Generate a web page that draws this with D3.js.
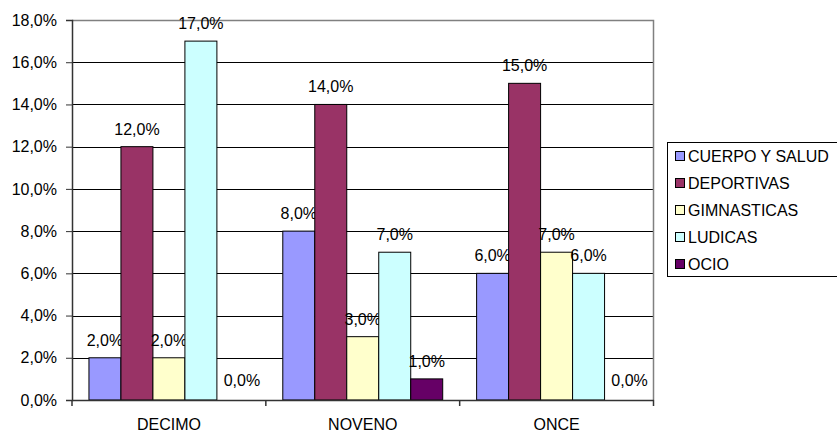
<!DOCTYPE html>
<html><head><meta charset="utf-8">
<script src="https://cdn.jsdelivr.net/npm/d3@7"></script>
<style>
html,body{margin:0;padding:0;background:#fff;}
text{font-family:"Liberation Sans",Arial,sans-serif;}
</style></head>
<body>
<svg id="chart" width="837" height="433"></svg>
<script>
const categories = ["DECIMO", "NOVENO", "ONCE"];
const seriesNames = ["CUERPO Y SALUD", "DEPORTIVAS", "GIMNASTICAS", "LUDICAS", "OCIO"];
const cuerpoYSalud = [2.0, 8.0, 6.0];
const deportivas = [12.0, 14.0, 15.0];
const gimnasticas = [2.0, 3.0, 7.0];
const ludicas = [17.0, 7.0, 6.0];
const ocio = [0.0, 1.0, 0.0];
const yTicks = [0, 2, 4, 6, 8, 10, 12, 14, 16, 18];
const colors = ["#9999FF", "#993366", "#FFFFCC", "#CCFFFF", "#660066"];

const seriesValues = [cuerpoYSalud, deportivas, gimnasticas, ludicas, ocio];
const fmt = v => v.toFixed(1).replace(".", ",") + "%";
const FS = 16;
const FF = "Liberation Sans, Arial, sans-serif";

const svg = d3.select("#chart");
const pLeft = 72, pRight = 653.5, pTop = 20, pBottom = 400;

const x0 = d3.scaleBand().domain(categories).range([pLeft, pRight]).paddingInner(0).paddingOuter(0);
const x1 = d3.scaleBand().domain(seriesNames).range([0, x0.bandwidth()]).paddingOuter(0.53).paddingInner(0);
const y = d3.scaleLinear().domain([0, 18]).range([pBottom, pTop]);

// gridlines
svg.append("g").selectAll("line").data(yTicks.filter(t => t > 0 && t < 18)).join("line")
  .attr("x1", pLeft).attr("x2", pRight)
  .attr("y1", d => Math.round(y(d)) + 0.5).attr("y2", d => Math.round(y(d)) + 0.5)
  .attr("stroke", "#000").attr("stroke-width", 1);

// plot border top/right
svg.append("path")
  .attr("d", `M${pLeft},${pTop + 0.5}H${pRight}V${pBottom}`)
  .attr("fill", "none").attr("stroke", "#808080").attr("stroke-width", 1.5);

// bars
const g = svg.append("g");
categories.forEach((c, ci) => {
  seriesNames.forEach((s, si) => {
    const v = seriesValues[si][ci];
    const bx = x0(c) + x1(s);
    if (v > 0) {
      g.append("rect")
        .attr("x", bx).attr("y", y(v))
        .attr("width", x1.bandwidth()).attr("height", y(0) - y(v))
        .attr("fill", colors[si]).attr("stroke", "#000").attr("stroke-width", 1);
    }
    g.append("text")
      .attr("x", bx + x1.bandwidth() / 2 + (v === 0 ? 9 : 0))
      .attr("y", y(v) - (v === 0 ? 14 : 12))
      .attr("text-anchor", "middle")
      .attr("font-size", FS)
      .attr("fill", "#000")
      .text(fmt(v));
  });
});

// y axis
const yAxis = d3.axisLeft(y).tickValues(yTicks).tickFormat(d => fmt(d)).tickSize(6).tickPadding(9);
const ya = svg.append("g").attr("transform", `translate(${pLeft},0)`).call(yAxis);
ya.select(".domain").attr("stroke", "#333").attr("stroke-width", 1.5);
ya.selectAll(".tick line").attr("stroke", "#333");
ya.selectAll("text").attr("font-size", FS).attr("fill", "#000").style("font-family", FF);

// x axis
const xa = svg.append("g").attr("transform", `translate(0,${pBottom})`)
  .call(d3.axisBottom(x0).tickSize(0).tickPadding(19));
xa.select(".domain").attr("stroke", "#333").attr("stroke-width", 1.5);
xa.selectAll("text").attr("font-size", FS).attr("fill", "#000").style("font-family", FF);
// category separator ticks
svg.append("g").selectAll("line").data(categories.map(c => x0(c)).concat([pRight])).join("line")
  .attr("x1", d => d).attr("x2", d => d).attr("y1", pBottom).attr("y2", pBottom + 6)
  .attr("stroke", "#333").attr("stroke-width", 1.5);

// legend
const lg = svg.append("g");
lg.append("rect").attr("x", 667.5).attr("y", 142.5).attr("width", 180).attr("height", 134)
  .attr("fill", "#fff").attr("stroke", "#000").attr("stroke-width", 1);
seriesNames.forEach((s, i) => {
  const cy = 156 + i * 27;
  lg.append("rect").attr("x", 675.5).attr("y", cy - 4.5).attr("width", 9).attr("height", 9)
    .attr("fill", colors[i]).attr("stroke", "#000").attr("stroke-width", 1);
  lg.append("text").attr("x", 688).attr("y", cy + 5.5).attr("font-size", FS).attr("fill", "#000").text(s);
});
</script>
</body></html>
